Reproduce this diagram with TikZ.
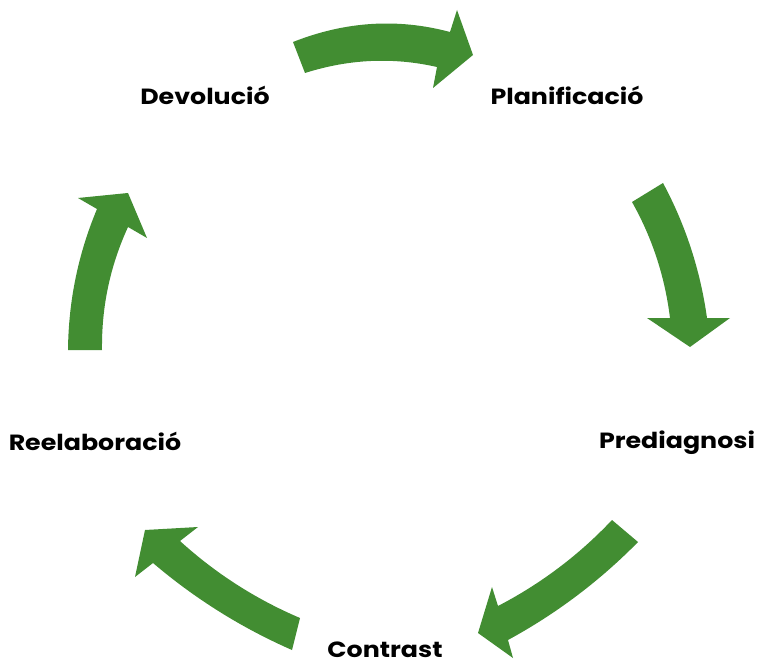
\documentclass[tikz,border=0pt]{standalone}
\usepackage{fontspec}
\setmainfont{Poppins}
\definecolor{arrowgreen}{RGB}{66,141,50}
\begin{document}
\begin{tikzpicture}[x=0.75pt,y=-0.75pt,
  cyclearrow/.style={fill=arrowgreen,draw=none},
  steplabel/.style={anchor=base,inner sep=0pt,xscale=1.15,font=\fontsize{16.5}{19}\selectfont\bfseries}]
\useasboundingbox (0,0) rectangle (757,663);
% labels
\node[steplabel] (dev) at (205,105) {Devolució};
\node[steplabel] (pla) at (567,105) {Planificació};
\node[steplabel] (pre) at (677,448) {Prediagnosi};
\node[steplabel] (con) at (385,657) {Contrast};
\node[steplabel] (ree) at (95,450) {Reelaboració};
% arrow 1: Devolució -> Planificació
\fill[cyclearrow] (293,42) .. controls (345.3,21.3) and (397.7,18) .. (450,32) -- (457,10) -- (473,55)
  -- (433,88) -- (437,67) .. controls (393,57) and (349,59) .. (305,73) -- cycle;
% arrow 2: Planificació -> Prediagnosi
\fill[cyclearrow] (663,183) .. controls (685.7,225.3) and (700.3,270.3) .. (707,318) -- (730,318) -- (690,347)
  -- (647,318) -- (670,318) .. controls (664.9,276.7) and (652.3,238) .. (632,202) -- cycle;
% arrow 3: Prediagnosi -> Contrast
\fill[cyclearrow] (638,542) .. controls (599.6,581.1) and (556.3,613.7) .. (508,640) -- (513,658) -- (478,633)
  -- (492,587) -- (498,606) .. controls (540.9,583.7) and (578.9,555.1) .. (612,520) -- cycle;
% arrow 4: Contrast -> Reelaboració
\fill[cyclearrow] (292,650) .. controls (241.4,627.8) and (195.1,598.8) .. (153,563) -- (135,577) -- (145,530)
  -- (198,527) -- (180,541) .. controls (215.7,573.5) and (255.7,599.1) .. (300,618) -- cycle;
% arrow 5: Reelaboració -> Devolució
\fill[cyclearrow] (68,350) .. controls (68.5,301.1) and (78.1,254.1) .. (97,209) -- (78,198) -- (128,193)
  -- (147,238) -- (128,227) .. controls (110.1,266.1) and (101.5,306.5) .. (102,350) -- cycle;
\end{tikzpicture}
\end{document}
